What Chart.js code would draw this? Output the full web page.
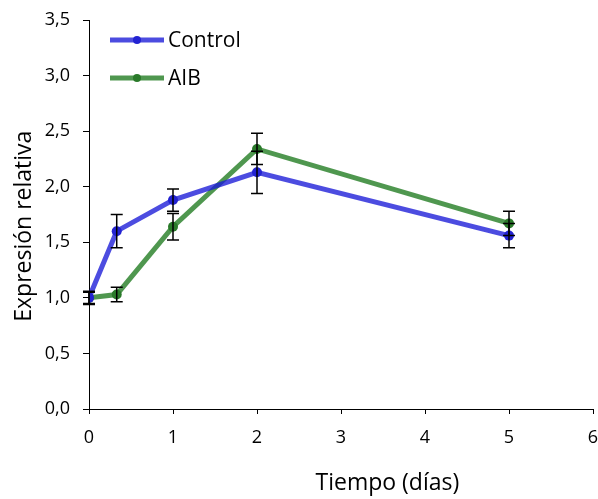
<!DOCTYPE html>
<html>
<head>
<meta charset="utf-8">
<script src="https://cdn.jsdelivr.net/npm/chart.js@4.4.0/dist/chart.umd.min.js"></script>
<style>
  html, body { margin: 0; padding: 0; background: #fff; }
  #wrap { width: 598px; height: 499px; position: relative; }
</style>
</head>
<body>
<div id="wrap"><canvas id="chart"></canvas></div>
<script>
// --- data ---
const days = [0, 0.33, 1, 2, 5];
const controlMean = [1.00, 1.60, 1.88, 2.13, 1.56];
const controlErr  = [0.06, 0.15, 0.10, 0.19, 0.11];
const aibMean = [1.00, 1.03, 1.64, 2.34, 1.67];
const aibErr  = [0.05, 0.065, 0.12, 0.14, 0.11];
const seriesNames = ['Control', 'AIB'];
const yTitle = 'Expresión relativa';
const xTitle = 'Tiempo (días)';

const FONT = '"Open Sans", "Noto Sans", sans-serif';
const LINE_COLORS = ['rgba(25,25,215,0.78)', 'rgba(35,125,35,0.8)'];
const DOT_COLORS = ['#2323d2', '#2a7a2a'];

const toPts = (ys) => days.map((x, i) => ({ x, y: ys[i] }));
const fmtComma = (v) => v.toFixed(1).replace('.', ',');

// error bars + titles + in-plot legend drawn on top
const extras = {
  id: 'extras',
  afterDatasetsDraw(c) {
    const ctx = c.ctx, xs = c.scales.x, ys = c.scales.y;
    ctx.save();
    ctx.strokeStyle = '#000';
    ctx.lineWidth = 1.5;
    [[controlMean, controlErr], [aibMean, aibErr]].forEach(([m, e]) => {
      m.forEach((v, i) => {
        const px = xs.getPixelForValue(days[i]);
        const top = ys.getPixelForValue(v + e[i]);
        const bot = ys.getPixelForValue(v - e[i]);
        ctx.beginPath();
        ctx.moveTo(px, top); ctx.lineTo(px, bot);
        ctx.moveTo(px - 6, top); ctx.lineTo(px + 6, top);
        ctx.moveTo(px - 6, bot); ctx.lineTo(px + 6, bot);
        ctx.stroke();
      });
    });
    ctx.restore();
  },
  afterDraw(c) {
    const ctx = c.ctx, a = c.chartArea;
    ctx.save();
    ctx.fillStyle = '#000';
    ctx.font = '23px ' + FONT;
    ctx.textAlign = 'center';
    ctx.textBaseline = 'middle';
    ctx.fillText(xTitle, a.left + (a.right - a.left) * 0.592, 483);
    ctx.translate(24, a.top + (a.bottom - a.top) * 0.530);
    ctx.rotate(-Math.PI / 2);
    ctx.fillText(yTitle, 0, 0);
    ctx.restore();

    // legend
    ctx.save();
    seriesNames.forEach((name, i) => {
      const y = 40 + i * 38;
      ctx.strokeStyle = LINE_COLORS[i];
      ctx.lineWidth = 5;
      ctx.beginPath(); ctx.moveTo(110, y); ctx.lineTo(164, y); ctx.stroke();
      ctx.fillStyle = DOT_COLORS[i];
      ctx.beginPath(); ctx.arc(137, y, 4, 0, Math.PI * 2); ctx.fill();
      ctx.fillStyle = '#000';
      ctx.font = '21px ' + FONT;
      ctx.textBaseline = 'middle';
      ctx.fillText(name, 168, y + 1);
    });
    ctx.restore();
  }
};

const mkSet = (label, ys, i) => ({
  label,
  data: toPts(ys),
  borderColor: LINE_COLORS[i],
  backgroundColor: DOT_COLORS[i],
  pointBackgroundColor: DOT_COLORS[i],
  pointBorderColor: DOT_COLORS[i],
  pointRadius: 5,
  pointBorderWidth: 0,
  borderWidth: 5,
  tension: 0
});

new Chart(document.getElementById('chart'), {
  type: 'line',
  data: { datasets: [mkSet(seriesNames[0], controlMean, 0), mkSet(seriesNames[1], aibMean, 1)] },
  options: {
    responsive: true,
    maintainAspectRatio: false,
    animation: false,
    layout: { padding: { left: 0, top: 20, right: 5, bottom: 0 } },
    plugins: { legend: { display: false }, tooltip: { enabled: false } },
    scales: {
      x: {
        type: 'linear', min: 0, max: 6,
        ticks: { stepSize: 1, color: '#000', font: { size: 18, family: FONT }, padding: 13 },
        grid: { drawOnChartArea: false, color: '#000', tickLength: 5 },
        border: { color: '#000', width: 1 },
        afterFit: (s) => { s.height = 90; s.paddingLeft = 0; s.paddingRight = 0; }
      },
      y: {
        min: 0, max: 3.5,
        ticks: { stepSize: 0.5, color: '#000', font: { size: 18, family: FONT }, padding: 13,
                 callback: (v) => fmtComma(v) },
        grid: { drawOnChartArea: false, color: '#000', tickLength: 6 },
        border: { color: '#000', width: 1 },
        afterFit: (s) => { s.width = 89; s.paddingTop = 0; s.paddingBottom = 0; }
      }
    }
  },
  plugins: [extras]
});
</script>
</body>
</html>
